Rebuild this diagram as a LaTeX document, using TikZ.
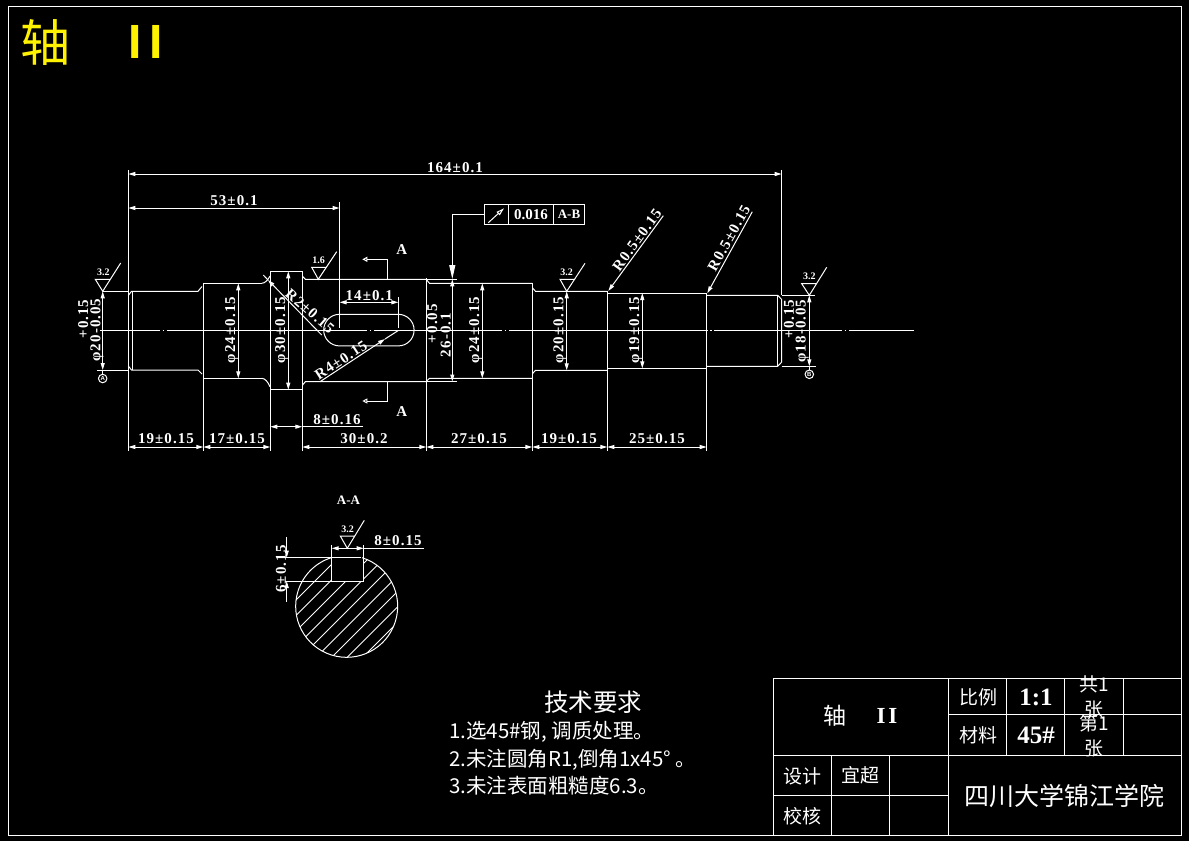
\documentclass[tikz,border=0pt]{standalone}
\usepackage{fontspec}
\usepackage{xcolor}
\usetikzlibrary{arrows.meta}
\newfontfamily\cotefont[LetterSpace=7]{Liberation Serif}
\newfontfamily\seriffont{Liberation Serif}
\newfontfamily\sansfont{Liberation Sans}
\newfontfamily\cjkfont{Noto Sans CJK SC}
\tikzset{
  trait/.style={white,line width=1pt},
  cote/.style={white,line width=1pt,>={Stealth[inset=0pt,length=7pt,width=4pt]}},
  hachure/.style={white,line width=0.9pt},
  cotetxt/.style={text=white,inner sep=0pt,font=\cotefont\bfseries\fontsize{15}{15}\selectfont},
  ruguetxt/.style={text=white,inner sep=0pt,font=\seriffont\bfseries\fontsize{10}{10}\selectfont},
  lettre/.style={text=white,inner sep=0pt,font=\seriffont\bfseries\fontsize{15}{15}\selectfont},
  cartouche/.style={text=white,inner sep=0pt,font=\cjkfont\fontsize{19}{25}\selectfont},
  chiffre/.style={text=white,inner sep=0pt,font=\seriffont\bfseries\fontsize{25}{25}\selectfont},
  consigne/.style={text=white,inner sep=0pt,anchor=west,font=\cjkfont\fontsize{20.5}{20.5}\selectfont},
  repere/.style={circle,draw=white,line width=1pt,text=white,inner sep=0pt,minimum size=8.5pt,font=\sansfont\bfseries\fontsize{6}{6}\selectfont},
}
\begin{document}
\begin{tikzpicture}[x=1pt,y=-1pt]
  \useasboundingbox (0,0) rectangle (1189,841);
  \fill[black] (0,0) rectangle (1189,841);

  % Cadre et titre
  \draw[trait] (8.3,6.3) rectangle (1181.7,835.3);
  \node[text=yellow,inner sep=0pt,font=\cjkfont\fontsize{50}{50}\selectfont] (titrearbre) at (45,42) {轴};
  \node[text=yellow,inner sep=0pt,font=\sansfont\bfseries\fontsize{48}{48}\selectfont] (titrenum) at (146,42) {I\hspace{8pt}I};

  % Axe de l'arbre
  \draw[trait] (100,330) -- (160,330);
  \draw[trait] (162.5,330) -- (164,330);
  \draw[trait] (167,330) -- (367,330);
  \draw[trait] (369.5,330) -- (371,330);
  \draw[trait] (374,330) -- (502,330);
  \draw[trait] (504.5,330) -- (506,330);
  \draw[trait] (509,330) -- (707.5,330);
  \draw[trait] (710,330) -- (711.5,330);
  \draw[trait] (714,330) -- (842,330);
  \draw[trait] (844.5,330) -- (846,330);
  \draw[trait] (849,330) -- (914,330);

  % Contour de l'arbre
  \draw[trait] (128.3,295.5) -- (131.5,291.3) -- (198,291.3) -- (202,286.5);
  \draw[trait] (128.3,366) -- (131.5,370) -- (198,370) -- (202,374);
  \draw[trait] (132.7,291.3) -- (132.7,370);
  \draw[trait] (261.7,283.3) -- (203.3,283.3) -- (203.3,378.3) -- (261.7,378.3);
  \draw[trait] (261.7,283.3) .. controls (265,283.3) and (268,280) .. (270,276);
  \draw[trait] (261.7,378.3) .. controls (265,378.3) and (268,382) .. (270,386.7);
  \draw[trait] (270.3,271.3) rectangle (302.3,389.7);
  \draw[trait] (302.6,276.5) -- (305.5,279.3) -- (426.3,279.3);
  \draw[trait] (302.6,385) -- (305.5,381.5) -- (426.3,381.5);
  \draw[trait] (426.7,280) -- (429.5,283.3) -- (532.3,283.3);
  \draw[trait] (426.7,381) -- (429.5,378.3) -- (532.3,378.3);
  \draw[trait] (532.3,283.3) -- (532.3,378.3);
  \draw[trait] (532.6,288) -- (535.5,291.3) -- (607.3,291.3);
  \draw[trait] (532.6,373.5) -- (535.5,370.3) -- (607.3,370.3);
  \draw[trait] (607.3,291.3) -- (607.3,370.3);
  \draw[trait] (607.3,293) -- (706.7,293);
  \draw[trait] (607.3,368.3) -- (706.7,368.3);
  \draw[trait] (706.7,293) -- (706.7,368.3);
  \draw[trait] (706.7,295.3) -- (777.7,295.3) -- (781.7,299.5) -- (781.7,362) -- (777.7,366.3) -- (706.7,366.3);
  \draw[trait] (777.7,295.3) -- (777.7,366.3);

  % Rainure de clavette
  \draw[trait] (339.5,314.3) arc[start angle=90,end angle=270,radius=15.8pt] -- (398.3,345.9) arc[start angle=-90,end angle=90,radius=15.8pt] -- cycle;

  % Lignes de rappel
  \draw[cote] (128.3,170) -- (128.3,451);
  \draw[cote] (781.7,170) -- (781.7,295);
  \draw[cote] (339.5,202) -- (339.5,328);
  \draw[cote] (398.3,297) -- (398.3,328);
  \draw[cote] (203.3,378.3) -- (203.3,451);
  \draw[cote] (270.3,389.7) -- (270.3,451);
  \draw[cote] (302.3,389.7) -- (302.3,451);
  \draw[cote] (426.3,278) -- (426.3,451);
  \draw[cote] (532.3,378.3) -- (532.3,451);
  \draw[cote] (607.3,370.3) -- (607.3,451);
  \draw[cote] (706.7,368.3) -- (706.7,451);
  \draw[cote] (103,291.3) -- (128.3,291.3);
  \draw[cote] (97,370) -- (128.3,370);
  \draw[cote] (426.3,279.3) -- (456.7,279.3);
  \draw[cote] (426.3,381.5) -- (456.7,381.5);
  \draw[cote] (781.7,295.3) -- (815,295.3);
  \draw[cote] (781.7,366.3) -- (816,366.3);

  % Cotes horizontales
  \draw[cote,<->] (128.3,174) -- (781.7,174);
  \node[cotetxt] (cotetotale) at (455,168) {164±0.1};
  \draw[cote,<->] (128.3,208) -- (339.5,208);
  \node[cotetxt] (coteclavette) at (234,201) {53±0.1};
  \draw[cote,<->] (339.5,302.3) -- (398.3,302.3);
  \node[cotetxt] (coterainure) at (369.3,295.3) {14±0.1};
  \draw[cote,<->] (270.3,426.7) -- (302.3,426.7);
  \draw[cote] (302.3,426.7) -- (363,426.7);
  \node[cotetxt] (cotecollet) at (337,420) {8±0.16};
  \draw[cote,<->] (128.3,447) -- (203.3,447);
  \node[cotetxt] (cotea) at (166,439) {19±0.15};
  \draw[cote,<->] (203.3,447) -- (270.3,447);
  \node[cotetxt] (coteb) at (237,439) {17±0.15};
  \draw[cote,<->] (302.3,447) -- (426.3,447);
  \node[cotetxt] (cotec) at (364,439) {30±0.2};
  \draw[cote,<->] (426.3,447) -- (532.3,447);
  \node[cotetxt] (coted) at (479,439) {27±0.15};
  \draw[cote,<->] (532.3,447) -- (607.3,447);
  \node[cotetxt] (cotee) at (569,439) {19±0.15};
  \draw[cote,<->] (607.3,447) -- (706.7,447);
  \node[cotetxt] (cotef) at (657,439) {25±0.15};

  % Cotes de diametre
  \draw[cote,<->] (102.7,291.3) -- (102.7,370);
  \node[cotetxt,rotate=90] (phideb) at (97,330) {φ20-0.05};
  \node[cotetxt,rotate=90] (tolgauche) at (83.3,319) {+0.15};
  \draw[cote,<->] (238.3,283.3) -- (238.3,378.3);
  \node[cotetxt,rotate=90] (phicing) at (231.7,330) {φ24±0.15};
  \draw[cote,<->] (288.3,271.3) -- (288.3,389.7);
  \node[cotetxt,rotate=90] (phicollet) at (281.7,330) {φ30±0.15};
  \draw[cote,<->] (482.3,283.3) -- (482.3,378.3);
  \node[cotetxt,rotate=90] (phiportee) at (475.7,330) {φ24±0.15};
  \draw[cote,<->] (566.7,291.3) -- (566.7,370.3);
  \node[cotetxt,rotate=90] (phivingt) at (560,330) {φ20±0.15};
  \draw[cote,<->] (642.3,293) -- (642.3,368.3);
  \node[cotetxt,rotate=90] (phidixneuf) at (635.7,330) {φ19±0.15};
  \draw[cote,<->] (809.3,295.3) -- (809.3,366.3);
  \node[cotetxt,rotate=90] (phifin) at (802.3,331) {φ18-0.05};
  \node[cotetxt,rotate=90] (toldroite) at (789,319) {+0.15};
  \draw[cote,<->] (452.3,279.3) -- (452.3,381.5);
  \node[cotetxt,rotate=90] (cotefond) at (445.7,335) {26-0.1};
  \node[cotetxt,rotate=90] (tolfond) at (432.3,323.5) {+0.05};

  % Rayons
  \draw[cote,->] (321.7,335) -- (268,280);
  \draw[cote] (268,280) -- (263.3,275);
  \node[cotetxt,rotate=-41] (rayoncollet) at (310,311) {R2±0.15};
  \draw[cote,->] (320,381.7) -- (385,339);
  \draw[cote] (385,339) -- (398,330.7);
  \node[cotetxt,rotate=33] (rayonrainure) at (341,360) {R4±0.15};
  \draw[cote,->] (663.3,215.7) -- (608.3,291);
  \node[cotetxt,rotate=54] (rayona) at (637,240) {R0.5±0.15};
  \draw[cote,->] (752.3,211.7) -- (707.3,293.3);
  \node[cotetxt,rotate=61] (rayonb) at (729,238) {R0.5±0.15};

  % Etats de surface
  \draw[cote] (120.7,263) -- (102.7,291.3) -- (95.3,279.3) -- (110.7,279.3);
  \node[ruguetxt] (ruga) at (103.3,272.5) {3.2};
  \draw[cote] (336.7,251.7) -- (318.3,279.3) -- (311.7,267.3) -- (326,267.3);
  \node[ruguetxt] (rugb) at (318.7,260.7) {1.6};
  \draw[cote] (585,263.3) -- (566.7,291.3) -- (560,279.3) -- (575,279.3);
  \node[ruguetxt] (rugc) at (566.7,272.3) {3.2};
  \draw[cote] (826.7,267.3) -- (809.3,295.3) -- (801.7,283.7) -- (816.7,283.7);
  \node[ruguetxt] (rugd) at (809.3,276.7) {3.2};

  % Reperes A et B
  \node[repere] (reperea) at (102.7,378.5) {A};
  \node[repere] (repereb) at (809.3,374.3) {B};
  \draw[cote] (102.7,370) -- (reperea);
  \draw[cote] (809.3,366.3) -- (repereb);

  % Tolerance de battement
  \draw[trait] (484.3,204.3) rectangle (584.7,224.3);
  \draw[trait] (508.3,204.3) -- (508.3,224.3);
  \draw[trait] (553.3,204.3) -- (553.3,224.3);
  \draw[cote,-{Stealth[open,fill=black,inset=0pt,length=8pt,width=4.5pt]}] (488.3,222.7) -- (504,208.3);
  \node[lettre] (tolvaleur) at (531,214.5) {0.016};
  \node[lettre,font=\seriffont\bfseries\fontsize{13}{13}\selectfont] (tolrepere) at (569,214.5) {A-B};
  \draw[cote,-{Stealth[inset=0pt,length=14pt,width=6pt]}] (484.3,214.3) -- (452.3,214.3) -- (452.3,279);

  % Plan de coupe
  \draw[cote,-{Stealth[open,fill=black,inset=0pt,length=5pt,width=5pt]}] (387.3,279.3) -- (387.3,259.3) -- (362.3,259.3);
  \draw[cote,-{Stealth[open,fill=black,inset=0pt,length=5pt,width=5pt]}] (387.3,381.5) -- (387.3,401) -- (362.3,401);
  \node[lettre] (coupehaut) at (401.7,250) {A};
  \node[lettre] (coupebas) at (401.7,411.7) {A};

  % Coupe A-A
  \node[lettre,font=\seriffont\bfseries\fontsize{13}{13}\selectfont] (coupetitre) at (348.5,500) {A-A};
  \begin{scope}
    \clip (346.7,606.3) circle (51pt);
    \draw[hachure] (236,660) -- (346,550);
    \draw[hachure] (251.5,660) -- (361.5,550);
    \draw[hachure] (267,660) -- (377,550);
    \draw[hachure] (282.5,660) -- (392.5,550);
    \draw[hachure] (298,660) -- (408,550);
    \draw[hachure] (313.5,660) -- (423.5,550);
    \draw[hachure] (329,660) -- (439,550);
    \draw[hachure] (344.5,660) -- (454.5,550);
    \draw[hachure] (360,660) -- (470,550);
  \end{scope}
  \fill[black] (331.7,550) rectangle (363.7,581);
  \draw[trait] (362.1,557.7) arc[start angle=72.4,end angle=-252.4,radius=51pt];
  \draw[cote] (331.7,545) -- (331.7,581) -- (363.7,581) -- (363.7,545);
  \draw[cote] (285,557.7) -- (361,557.7);
  \draw[cote] (285,581) -- (331.7,581);
  \draw[cote,->] (286.7,537) -- (286.7,557.7);
  \draw[cote,->] (286.7,601.7) -- (286.7,581);
  \node[cotetxt,rotate=90] (cotehauteur) at (281,569) {6±0.15};
  \draw[cote,<->] (331.7,548.3) -- (363.7,548.3);
  \draw[cote] (363.7,548.3) -- (423.7,548.3);
  \node[cotetxt] (cotelargeur) at (398,541) {8±0.15};
  \draw[cote] (364.3,520.3) -- (347.3,548.3) -- (340.3,536) -- (354.3,536);
  \node[ruguetxt] (ruge) at (347.7,529.7) {3.2};

  % Exigences techniques
  \node[text=white,inner sep=0pt,font=\cjkfont\fontsize{24.5}{24.5}\selectfont] (exigtitre) at (593,702) {技术要求};
  \node[consigne] (exiga) at (449,732) {1.选45\#钢, 调质处理。};
  \node[consigne] (exigb) at (449,759.5) {2.未注圆角R1,倒角1x45° 。};
  \node[consigne] (exigc) at (449,786) {3.未注表面粗糙度6.3。};

  % Cartouche
  \draw[trait] (773.3,678.3) rectangle (1181.7,835.3);
  \draw[trait] (948.3,678.3) -- (948.3,835.3);
  \draw[trait] (1006.7,678.3) -- (1006.7,755.3);
  \draw[trait] (1064.7,678.3) -- (1064.7,755.3);
  \draw[trait] (1123.3,678.3) -- (1123.3,755.3);
  \draw[trait] (948.3,714.3) -- (1181.7,714.3);
  \draw[trait] (773.3,755.3) -- (1181.7,755.3);
  \draw[trait] (773.3,795.3) -- (948.3,795.3);
  \draw[trait] (831.7,755.3) -- (831.7,835.3);
  \draw[trait] (889.3,755.3) -- (889.3,835.3);
  \node[cartouche,font=\cjkfont\fontsize{23}{23}\selectfont] (nomarbre) at (835,716) {轴};
  \node[chiffre,font=\seriffont\bfseries\fontsize{23}{23}\selectfont] (nomnum) at (887,716) {I\hspace{3pt}I};
  \node[cartouche] (echelle) at (978,697) {比例};
  \node[chiffre] (echelleval) at (1036,697) {1:1};
  \node[cartouche] (matiere) at (978,735) {材料};
  \node[chiffre] (matiereval) at (1036,735) {45\#};
  \node[cartouche,align=center] (total) at (1094,696.5) {共1\\张};
  \node[cartouche,align=center] (feuille) at (1094,735.5) {第1\\张};
  \node[cartouche] (dessin) at (802,776) {设计};
  \node[cartouche] (dessinnom) at (860,775) {宜超};
  \node[cartouche] (verif) at (802,816) {校核};
  \node[cartouche,font=\cjkfont\fontsize{25}{25}\selectfont] (ecole) at (1064,796) {四川大学锦江学院};
\end{tikzpicture}
\end{document}
